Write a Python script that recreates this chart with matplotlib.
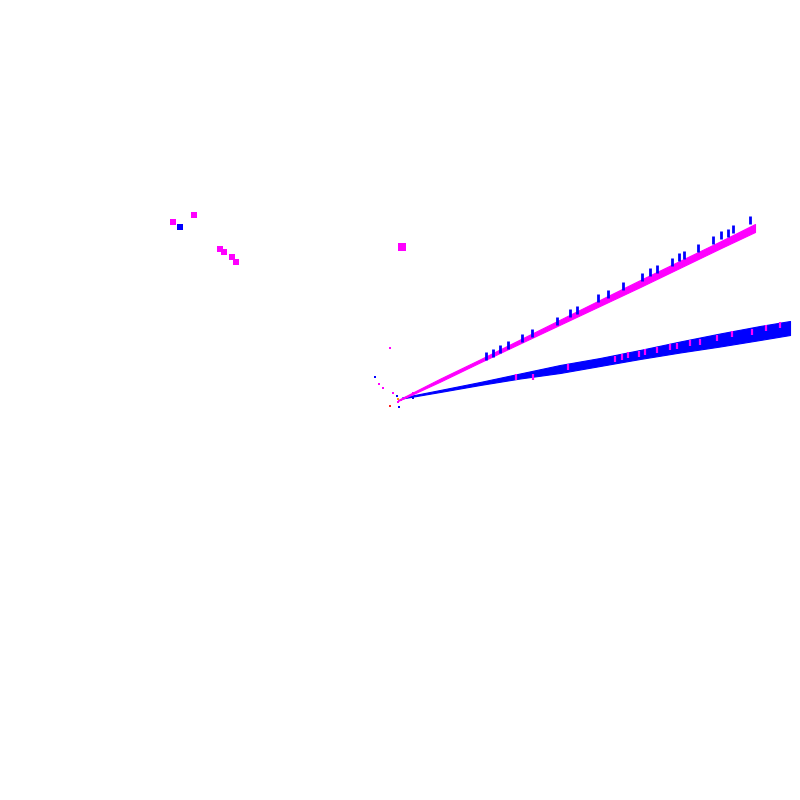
import matplotlib
matplotlib.use("Agg")
import matplotlib.pyplot as plt

# Blue band (series A): x with lower / upper envelope
blue_x  = [0.05, 1.0, 2.0, 3.0, 4.0, 5.0, 6.0, 7.0, 8.0, 9.0, 9.75]
blue_lo = [0.0375, 0.2, 0.375, 0.5375, 0.675, 0.85, 1.025, 1.1875, 1.3375, 1.5, 1.625]
blue_hi = [0.0625, 0.25, 0.45, 0.6625, 0.875, 1.05, 1.25, 1.4625, 1.6625, 1.85, 1.975]

# Magenta band (series B)
mag_x  = [-0.05, 1.0, 2.0, 3.0, 4.0, 5.0, 6.0, 7.0, 8.0, 8.875]
mag_lo = [-0.025, 0.4575, 0.94, 1.4125, 1.8825, 2.3525, 2.8225, 3.305, 3.7875, 4.2]
mag_hi = [0.0, 0.5325, 1.015, 1.5125, 2.0075, 2.5025, 2.9975, 3.48, 3.9625, 4.4]

# Blue outliers above magenta band
tick_x = [2.15, 2.325, 2.5, 2.7, 3.05, 3.3, 3.925, 4.25, 4.425, 4.95, 5.2, 5.575,
          6.05, 6.25, 6.425, 6.8, 6.975, 7.1, 7.45, 7.825, 8.025, 8.2, 8.325, 8.75]
tick_y = [1.1, 1.175, 1.275, 1.375, 1.55, 1.675, 1.975, 2.175, 2.25, 2.55, 2.65, 2.85,
          3.075, 3.2, 3.275, 3.45, 3.575, 3.625, 3.8, 4.0, 4.125, 4.175, 4.275, 4.5]

# Magenta points within blue band
stripe_x = [2.9, 3.325, 4.2, 5.375, 5.55, 5.7, 5.975, 6.125, 6.425, 6.75, 6.925,
            7.25, 7.5, 7.925, 8.3, 8.8, 9.15, 9.5]
stripe_y = [0.575, 0.575, 0.825, 1.025, 1.075, 1.125, 1.15, 1.2, 1.25, 1.325, 1.35,
            1.425, 1.45, 1.55, 1.65, 1.7, 1.8, 1.875]

# Scattered points
mag_pts_x = [-5.675, -5.15, -4.5, -4.4, -4.2, -4.1, 0.05, -0.25, -0.425, -0.525,
             -0.175, 0.025, -0.05, 0.175, 0.325]
mag_pts_y = [4.45, 4.625, 3.775, 3.7, 3.575, 3.45, 3.825, 1.3, 0.3, 0.4,
             0.175, 0.0, -0.05, 0.075, 0.175]
blue_pts_x = [-5.5, -0.625, -0.075, 0.325, -0.025]
blue_pts_y = [4.325, 0.575, 0.1, 0.05, -0.175]
red_pts_x = [-0.25]
red_pts_y = [-0.15]
orange_pts_x = [-0.05]
orange_pts_y = [0.025]

BLUE = "#0000ff"
MAG = "#ff00ff"

fig = plt.figure(figsize=(8, 8), dpi=100)
ax = fig.add_axes([0, 0, 1, 1])
ax.set_xlim(-10, 10)
ax.set_ylim(-10, 10)
ax.axis("off")

ax.fill_between(blue_x, blue_lo, blue_hi, color=BLUE, linewidth=0.8, edgecolor=BLUE)
ax.plot(stripe_x, stripe_y, linestyle="none", marker="|", color=MAG,
        markersize=5, markeredgewidth=1.6)
ax.fill_between(mag_x, mag_lo, mag_hi, color=MAG, linewidth=0.8, edgecolor=MAG)
ax.plot(tick_x, tick_y, linestyle="none", marker="|", color=BLUE,
        markersize=5.5, markeredgewidth=2)

ax.scatter(mag_pts_x[:6], mag_pts_y[:6], s=14, marker="s", color=MAG, linewidths=0)
ax.scatter(mag_pts_x[6:7], mag_pts_y[6:7], s=30, marker="s", color=MAG, linewidths=0)
ax.scatter(mag_pts_x[7:], mag_pts_y[7:], s=4, marker="s", color=MAG, linewidths=0)
ax.scatter(blue_pts_x[:1], blue_pts_y[:1], s=16, marker="s", color=BLUE, linewidths=0)
ax.scatter(blue_pts_x[1:], blue_pts_y[1:], s=4, marker="s", color=BLUE, linewidths=0)
ax.scatter(red_pts_x, red_pts_y, s=3, marker="s", color="#ff2020", linewidths=0)
ax.scatter(orange_pts_x, orange_pts_y, s=4, marker="s", color="#ffa000", linewidths=0)

fig.savefig("out.png", dpi=100, facecolor="white")
